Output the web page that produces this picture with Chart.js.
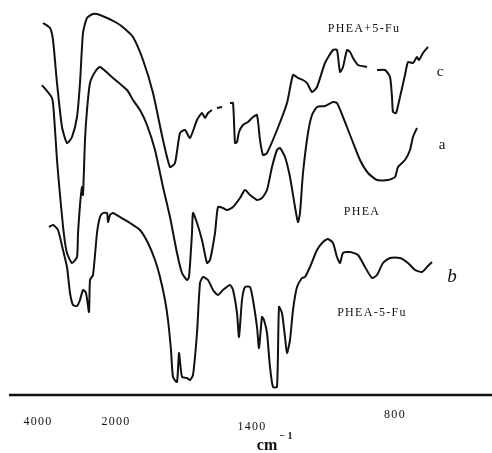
<!DOCTYPE html>
<html>
<head>
<meta charset="utf-8">
<script src="https://cdn.jsdelivr.net/npm/chart.js@4.4.1/dist/chart.umd.min.js"></script>
<style>
  html, body { margin: 0; padding: 0; background: #fff; }
  #wrap { width: 492px; height: 453px; }
</style>
</head>
<body>
<div id="wrap"><canvas id="irChart" width="492" height="453"></canvas></div>
<script>
// IR spectra: [position along axis, depth from top]
const specC = [
  [43,23],[50,28],[53,40],[57,83],[62,127],[67,143],[72,137],[77,117],[80,83],[83,33],[87,18],
  [93,14],[100,15],[117,23],[125,29],[133,37],[143,60],[153,93],[163,140],[170,167],[175,163],
  [180,133],[185,130],[190,138],[197,120],[202,113],[205,118],[208,113],[212,110],[null,null],
  [217,108],[222,107],[null,null],[230,103],[233,103],[235,143],[237,142],[239,132],[243,125],
  [248,122],[253,117],[257,115],[260,140],[263,155],[267,153],[277,130],[287,103],[293,75],
  [298,78],[303,80],[307,83],[312,92],[317,87],[325,63],[333,50],[337,50],[340,72],[343,67],
  [347,50],[350,52],[353,58],[358,65],[367,67],[null,null],[377,70],[385,70],[390,77],[392,97],
  [393,112],[396,113],[400,97],[405,75],[408,62],[413,63],[417,57],[419,60],[423,53],[428,47]
];
const specA = [
  [42,85],[52,98],[54,115],[57,160],[60,195],[64,235],[67,253],[72,263],[77,257],[78,233],
  [80,205],[82,187],[83,195],[85,140],[87,110],[90,83],[95,72],[100,67],[113,78],[127,90],
  [133,100],[140,110],[147,125],[155,150],[163,187],[170,217],[177,253],[182,273],[187,280],
  [189,277],[192,233],[193,213],[197,223],[202,240],[207,263],[210,260],[215,233],[218,207],
  [223,208],[227,210],[233,207],[240,198],[245,190],[250,195],[257,200],[262,198],[267,190],
  [272,167],[277,150],[280,148],[285,157],[290,177],[295,207],[298,222],[300,213],[303,173],
  [308,133],[312,115],[317,107],[325,106],[333,102],[337,103],[343,117],[352,140],[360,160],
  [368,173],[377,180],[388,180],[395,177],[398,167],[405,160],[410,150],[413,137],[417,128]
];
const specB = [
  [49,227],[53,225],[58,230],[63,250],[67,267],[70,293],[73,305],[77,306],[80,300],[83,290],
  [86,293],[89,312],[90,280],[93,275],[97,233],[100,217],[103,213],[107,213],[108,222],
  [110,215],[113,213],[120,217],[130,223],[140,230],[148,243],[155,260],[160,277],[165,300],
  [168,320],[171,350],[173,377],[177,382],[179,353],[182,377],[187,378],[190,380],[193,375],
  [197,333],[200,283],[203,277],[208,280],[213,290],[218,295],[223,290],[230,285],[233,290],
  [237,313],[239,337],[242,300],[245,287],[250,287],[253,300],[257,327],[259,348],[262,317],
  [264,320],[267,333],[270,367],[273,387],[277,387],[279,307],[282,313],[285,337],[287,353],
  [290,340],[293,310],[297,287],[302,278],[305,277],[310,267],[317,250],[323,242],[328,239],
  [333,243],[337,257],[340,263],[343,253],[350,252],[358,255],[365,267],[372,278],[377,275],
  [383,263],[390,258],[400,258],[408,263],[415,270],[422,272],[427,267],[432,262]
];
const baseline = [[9,395],[492,395]];

const tickLabels = ['4000', '2000', '1400', '800'];
const tickAt = [38, 116, 252, 395];
const tickRow = [422, 422, 427, 415];

const curveNames = ['PHEA+5-Fu', 'PHEA', 'PHEA-5-Fu'];
const curveNameAt = [[364,29],[362,212],[372,313]];
const curveLetters = ['c', 'a', 'b'];
const curveLetterAt = [[440,72],[442,145],[452,277]];

const toXY = arr => arr.map(p => ({ x: p[0], y: p[1] }));

const lineStyle = {
  borderColor: '#111',
  borderWidth: 2,
  pointRadius: 0,
  tension: 0.2,
  fill: false,
  spanGaps: false
};

const textPlugin = {
  id: 'irText',
  afterDraw(chart) {
    const { ctx, scales: { x, y } } = chart;
    ctx.save();
    ctx.fillStyle = '#111';
    ctx.textAlign = 'center';
    ctx.textBaseline = 'middle';

    ctx.font = '12px "Liberation Serif", serif';
    ctx.letterSpacing = '1.3px';
    tickLabels.forEach((t, i) => ctx.fillText(t, x.getPixelForValue(tickAt[i]), y.getPixelForValue(tickRow[i])));
    curveNames.forEach((t, i) => ctx.fillText(t, x.getPixelForValue(curveNameAt[i][0]), y.getPixelForValue(curveNameAt[i][1])));

    ctx.letterSpacing = '0px';
    ctx.font = 'bold 16px "Liberation Serif", serif';
    ctx.fillText('cm', x.getPixelForValue(267), y.getPixelForValue(446));
    ctx.font = 'bold 10px "Liberation Serif", serif';
    ctx.fillText('\u2212 1', x.getPixelForValue(286), y.getPixelForValue(436));

    curveLetters.forEach((t, i) => {
      ctx.font = t === 'b' ? 'italic 19px "Liberation Serif", serif' : '15px "Liberation Serif", serif';
      ctx.fillText(t, x.getPixelForValue(curveLetterAt[i][0]), y.getPixelForValue(curveLetterAt[i][1]));
    });
    ctx.restore();
  }
};

new Chart(document.getElementById('irChart'), {
  type: 'line',
  data: {
    datasets: [
      { label: curveNames[0], data: toXY(specC), ...lineStyle },
      { label: curveNames[1], data: toXY(specA), ...lineStyle },
      { label: curveNames[2], data: toXY(specB), ...lineStyle },
      { label: 'axis', data: toXY(baseline), ...lineStyle, borderWidth: 2.6, tension: 0 }
    ]
  },
  options: {
    responsive: false,
    animation: false,
    layout: { padding: 0 },
    plugins: { legend: { display: false }, tooltip: { enabled: false } },
    scales: {
      x: { type: 'linear', min: 0, max: 492, display: false },
      y: { type: 'linear', min: 0, max: 453, reverse: true, display: false }
    }
  },
  plugins: [textPlugin]
});
</script>
</body>
</html>
